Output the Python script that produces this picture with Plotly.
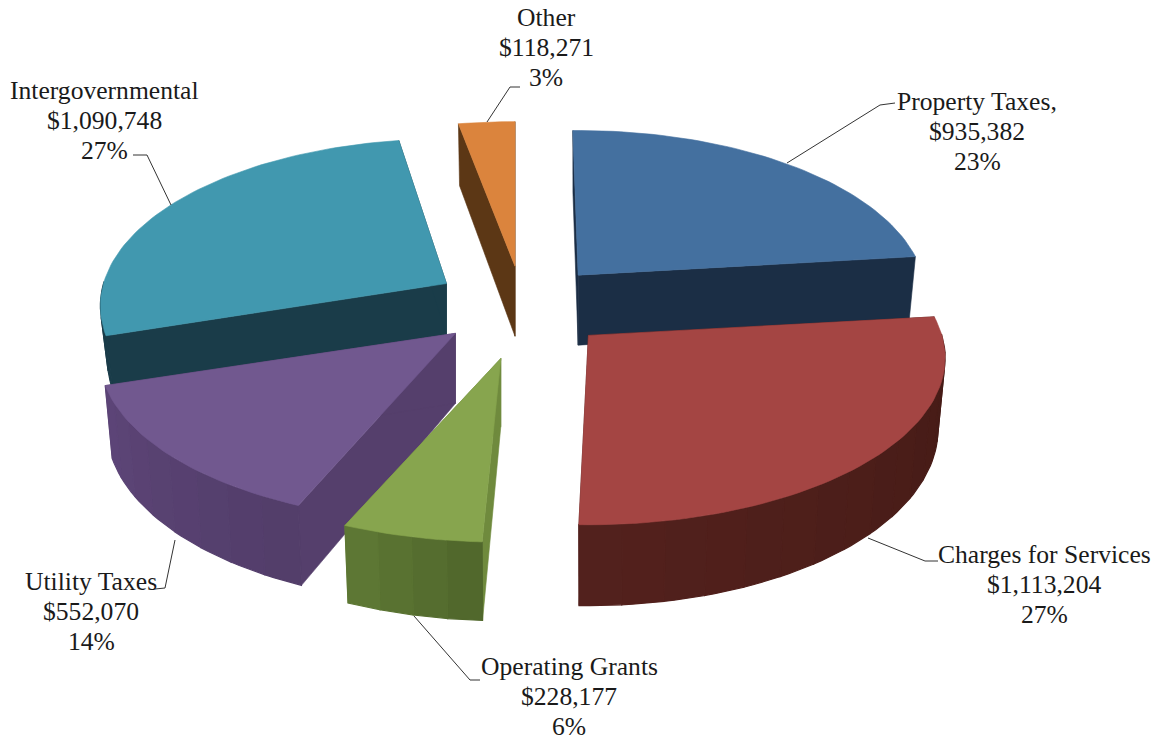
import math
import plotly.graph_objects as go

# ---------- data ----------
labels = ["Property Taxes,", "Charges for Services", "Operating Grants", "Utility Taxes", "Intergovernmental", "Other"]
values = [935382, 1113204, 228177, 552070, 1090748, 118271]
percents = [23, 27, 6, 14, 27, 3]

# ---------- style ----------
top_colors = ["#44709F", "#A44543", "#87A54E", "#71588F", "#4198AF", "#DB843D"]
wall_start = ["#1B2E45", "#431A15", "#4F652B", "#523D69", "#1A3C49", "#5C3715"]
wall_end = ["#1B2E45", "#53211D", "#5F7A35", "#5D4578", "#1A3C49", "#5C3715"]
side_colors = ["#1B2E45", "#481B17", "#6F8A3D", "#553F6C", "#1A3C49", "#5C3715"]
pull_x = [0.278, 0.28, 0.175, 0.225, 0.232, 0.0]
pull_y = [0.25, 0.265, 0.32, 0.25, 0.26, 0.245]
rx_scale = [0.985, 1.01, 1.0, 1.008, 0.98, 1.0]
ry_scale = [1.0, 1.0, 0.97, 1.0, 1.0, 1.0]
trim_start = [-1.0, 0, 0, 0, 0, 0]
trim_end = [0, -1.3, 0, 0, 1.5, 0]
depths = [70, 70, 68, 70, 52, 70]
draw_order = [5, 0, 4, 3, 2, 1]
CX, CY = 515, 305
RX, RY, K = 350, 164, 0.134
BOTTOM_SCALE = 0.98

label_x = [977, 1044, 569, 91, 104, 546]
label_y = [101, 554, 666, 581, 90, 17]
line_gap = 30
leaders_x = [[895, 880, 787], [938, 925, 868], [480, 470, 414], [155, 165, 175], [133, 147, 171], [520, 510, 487]]
leaders_y = [[103, 105, 163], [561, 561, 538], [680, 680, 616], [589, 588, 540], [155, 155, 205], [87, 87, 122]]


def proj(u, v):
    w = 1 + K * v
    return RX * u / w, -RY * v / w


def mix(a, b, t):
    ca = [int(a[i:i + 2], 16) for i in (1, 3, 5)]
    cb = [int(b[i:i + 2], 16) for i in (1, 3, 5)]
    return "rgb(%d,%d,%d)" % tuple(round(x + (y - x) * t) for x, y in zip(ca, cb))


def poly(fig, xs, ys, color, lw=0.6):
    fig.add_trace(go.Scatter(x=xs + xs[:1], y=ys + ys[:1], mode="lines", fill="toself", fillcolor=color,
                             line=dict(color=color, width=lw), hoverinfo="skip", showlegend=False))


total = sum(values)
bounds = [0.0]
for val in values:
    bounds.append(bounds[-1] + val / total * 2 * math.pi)

fig = go.Figure()
for i in draw_order:
    a0 = bounds[i] + math.radians(trim_start[i])
    a1 = bounds[i + 1] + math.radians(trim_end[i])
    mid = (bounds[i] + bounds[i + 1]) / 2
    px, py = proj(pull_x[i] * math.sin(mid), pull_y[i] * math.cos(mid))
    ax, ay = CX + px, CY + py
    d = depths[i]

    def top(t):
        x, y = proj(math.sin(t), math.cos(t))
        return ax + rx_scale[i] * x, ay + ry_scale[i] * y

    def bot(t):
        x, y = top(t)
        return ax + BOTTOM_SCALE * (x - ax), y + d / (1 + K * math.cos(t))

    # radial walls
    for e in (a0, a1):
        tx, ty = top(e)
        bx, by = bot(e)
        poly(fig, [ax, tx, bx, ax], [ay, ty, by, ay + d], side_colors[i])

    # outer curved wall: shaded strips drawn with overlap so no seams show
    n = max(4, int((a1 - a0) / math.radians(6)))
    for j in range(n):
        t0 = a0 + (a1 - a0) * j / n
        t1 = a0 + (a1 - a0) * (j + 1) / n
        if math.cos((t0 + t1) / 2) > 0.0:
            continue
        sub = [t0 + (t1 - t0) * q / 4 for q in range(5)]
        tops = [top(t) for t in sub]
        bots = [bot(t) for t in reversed(sub)]
        poly(fig, [p[0] for p in tops + bots], [p[1] for p in tops + bots],
             mix(wall_start[i], wall_end[i], (j + 0.5) / n), lw=1.2)

    # top face
    m = max(8, int((a1 - a0) / math.radians(1.5)))
    pts = [top(a0 + (a1 - a0) * j / m) for j in range(m + 1)]
    poly(fig, [ax] + [p[0] for p in pts], [ay] + [p[1] for p in pts], top_colors[i])

# leader lines and labels
for i in range(len(labels)):
    fig.add_trace(go.Scatter(x=leaders_x[i], y=leaders_y[i], mode="lines", line=dict(color="#333333", width=1),
                             hoverinfo="skip", showlegend=False))
    lines = [labels[i], "${:,}".format(values[i]), "{}%".format(percents[i])]
    for k, text in enumerate(lines):
        fig.add_annotation(x=label_x[i], y=label_y[i] + k * line_gap, text=text, showarrow=False,
                           xanchor="center", yanchor="middle",
                           font=dict(family="Liberation Serif", size=25.6, color="#1a1a1a"))

fig.update_layout(width=1158, height=742, margin=dict(l=0, r=0, t=0, b=0), paper_bgcolor="white",
                  plot_bgcolor="white", showlegend=False,
                  xaxis=dict(range=[0, 1158], visible=False, fixedrange=True),
                  yaxis=dict(range=[742, 0], visible=False, fixedrange=True))
fig.write_html("out.html", config={"displayModeBar": False},
               post_script="document.body.style.margin='0';document.body.style.overflow='hidden';")
